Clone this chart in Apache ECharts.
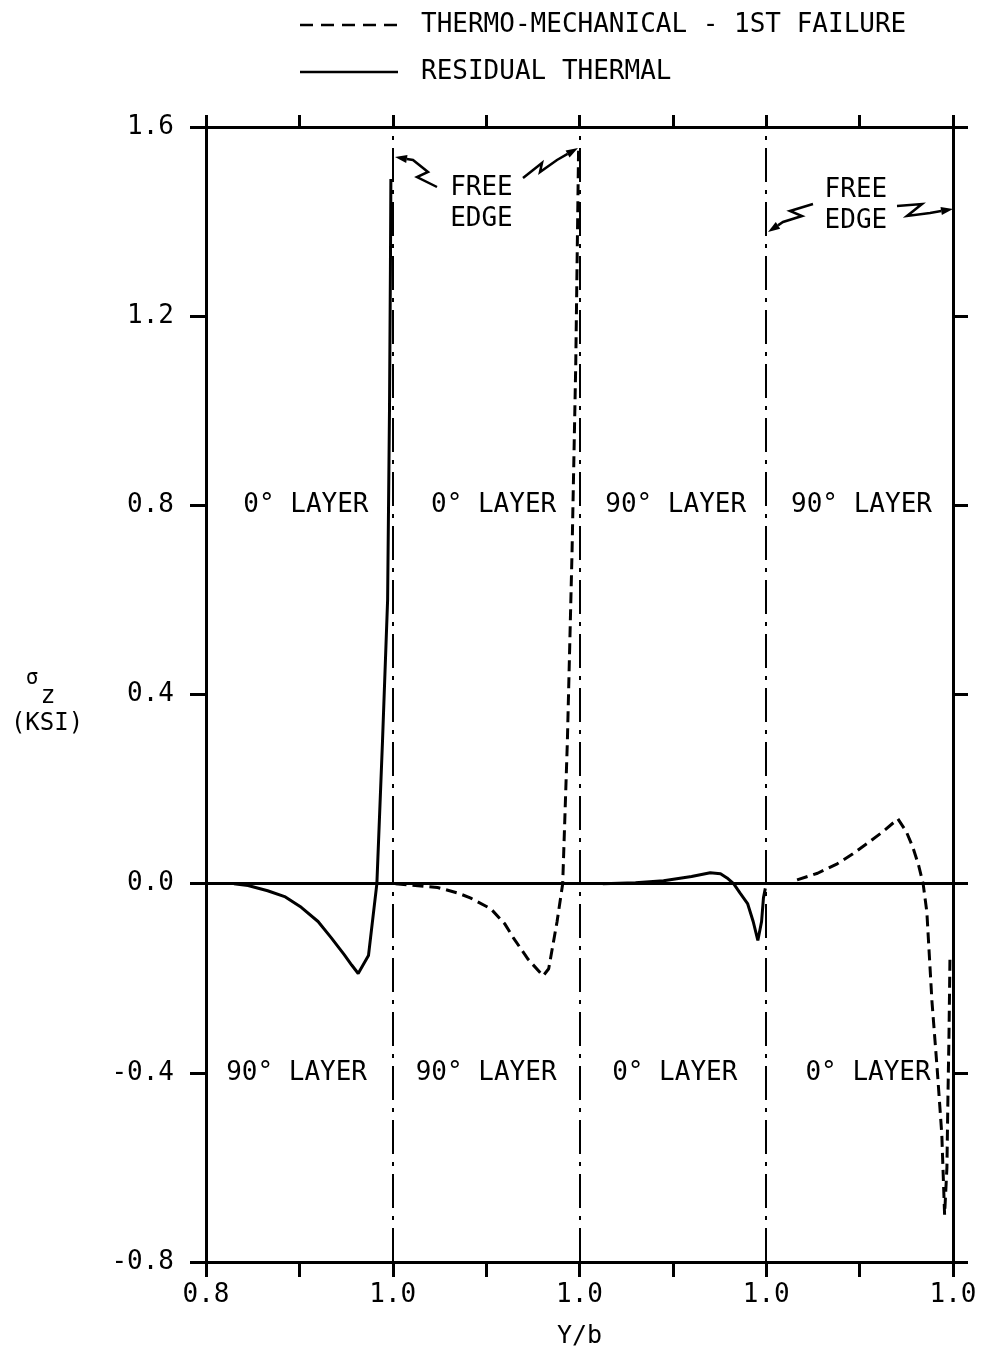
<!DOCTYPE html>
<html>
<head>
<meta charset="utf-8">
<script src="https://cdn.jsdelivr.net/npm/echarts@6/dist/echarts.min.js"></script>
<style>
  html, body { margin: 0; padding: 0; background: #fff; overflow: hidden; }
  #chart { width: 983px; height: 1354px; }
</style>
</head>
<body>
<div id="chart"></div>
<script>
// ---- Data (Y/b plotted on a continuous 0.8 .. 1.6 scale, one 0.2 panel per layer pair) ----
const yTickValues = [-0.8, -0.4, 0.0, 0.4, 0.8, 1.2, 1.6];
const xPanelBounds = [1.0, 1.2, 1.4];            // dash-dot layer/free-edge separators
const xLabelText = { '0.8': '0.8', '1.0': '1.0', '1.2': '1.0', '1.4': '1.0', '1.6': '1.0' };

const residualPanel1 = [[0.830,0],[0.845,-0.004],[0.866,-0.015],[0.885,-0.028],[0.902,-0.05],[0.92,-0.08],[0.934,-0.114],[0.948,-0.15],[0.956,-0.172],[0.963,-0.19],[0.974,-0.152],[0.983,0.0],[0.989,0.3],[0.9945,0.6],[0.9965,1.0],[0.9975,1.3],[0.998,1.49]];
const thermoPanel2 = [[1.003,0],[1.02,-0.003],[1.048,-0.008],[1.07,-0.02],[1.083,-0.03],[1.105,-0.053],[1.12,-0.085],[1.129,-0.114],[1.145,-0.16],[1.161,-0.195],[1.167,-0.18],[1.176,-0.08],[1.182,0],[1.187,0.3],[1.192,0.7],[1.196,1.1],[1.198,1.4],[1.199,1.55]];
const residualPanel3 = [[1.225,0],[1.26,0.002],[1.29,0.006],[1.32,0.015],[1.34,0.023],[1.351,0.021],[1.358,0.012],[1.365,0],[1.372,-0.02],[1.38,-0.042],[1.386,-0.08],[1.391,-0.12],[1.395,-0.08],[1.397,-0.03],[1.399,-0.01]];
const thermoPanel4 = [[1.433,0.008],[1.455,0.022],[1.476,0.042],[1.492,0.062],[1.508,0.085],[1.525,0.11],[1.541,0.137],[1.550,0.11],[1.557,0.077],[1.563,0.04],[1.568,0],[1.572,-0.06],[1.5775,-0.25],[1.583,-0.39],[1.588,-0.53],[1.591,-0.70],[1.5935,-0.6],[1.5945,-0.46],[1.5957,-0.32],[1.5968,-0.148]];

const legendNames = ['THERMO-MECHANICAL - 1ST FAILURE', 'RESIDUAL THERMAL'];
const layerLabelsTop = [['0° LAYER', 0.907], ['0° LAYER', 1.108], ['90° LAYER', 1.303], ['90° LAYER', 1.502]];
const layerLabelsBottom = [['90° LAYER', 0.897], ['90° LAYER', 1.100], ['0° LAYER', 1.302], ['0° LAYER', 1.509]];
const freeEdgeLabels = [['FREE\nEDGE', 1.095, 1.437], ['FREE\nEDGE', 1.496, 1.433]];

// ---- Chart ----
const FONT = 'DejaVu Sans Mono';
const chart = echarts.init(document.getElementById('chart'), null, { renderer: 'canvas' });

const solidStyle = { color: '#000', width: 3, type: 'solid' };
const dashStyle = { color: '#000', width: 3, type: [11, 6] };
const sepStyle = { color: '#000', width: 2, type: [34, 8, 4, 8] };

function lineSeries(name, data, style, extra) {
  return Object.assign({
    name: name, type: 'line', data: data, showSymbol: false, symbol: 'none',
    lineStyle: style, smooth: false, silent: true, animation: false, z: 5
  }, extra || {});
}

const xCommon = {
  type: 'value', min: 0.8, max: 1.6, interval: 0.1,
  splitLine: { show: false },
  axisLine: { show: true, onZero: false, lineStyle: { color: '#000', width: 3 } }
};
const yCommon = {
  type: 'value', min: -0.8, max: 1.6, interval: 0.4,
  splitLine: { show: false },
  axisLine: { show: true, onZero: false, lineStyle: { color: '#000', width: 3 } }
};

const option = {
  backgroundColor: '#fff',
  animation: false,
  grid: { left: 206, right: 30, top: 127, bottom: 87, containLabel: false },
  xAxis: [
    Object.assign({}, xCommon, {
      position: 'bottom',
      axisTick: { show: true, inside: false, length: 15, lineStyle: { color: '#000', width: 3 } },
      axisLabel: {
        show: true, margin: 20, color: '#000', fontFamily: FONT, fontSize: 26,
        formatter: function (v) { const k = v.toFixed(1); return xLabelText[k] !== undefined ? xLabelText[k] : ''; }
      },
      name: 'Y/b', nameLocation: 'middle', nameGap: 62,
      nameTextStyle: { color: '#000', fontFamily: FONT, fontSize: 25 }
    }),
    Object.assign({}, xCommon, {
      position: 'top',
      axisTick: { show: true, inside: false, length: 12, lineStyle: { color: '#000', width: 3 } },
      axisLabel: { show: false }
    })
  ],
  yAxis: [
    Object.assign({}, yCommon, {
      position: 'left',
      axisTick: { show: true, inside: false, length: 16, lineStyle: { color: '#000', width: 3 } },
      axisLabel: {
        show: true, margin: 32, color: '#000', fontFamily: FONT, fontSize: 26,
        formatter: function (v) { return v.toFixed(1); }
      }
    }),
    Object.assign({}, yCommon, {
      position: 'right',
      axisTick: { show: true, inside: false, length: 15, lineStyle: { color: '#000', width: 3 } },
      axisLabel: { show: false }
    })
  ],
  series: [
    lineSeries('guides', [], solidStyle, {
      markLine: {
        silent: true, symbol: 'none', label: { show: false }, animation: false,
        data: [
          { yAxis: 0, lineStyle: { color: '#000', width: 3, type: 'solid' } }
        ].concat(xPanelBounds.map(function (x) { return { xAxis: x, lineStyle: sepStyle }; }))
      }
    }),
    lineSeries(legendNames[1], residualPanel1, solidStyle),
    lineSeries(legendNames[0], thermoPanel2, dashStyle),
    lineSeries(legendNames[1], residualPanel3, solidStyle),
    lineSeries(legendNames[0], thermoPanel4, dashStyle)
  ]
};
chart.setOption(option);

// ---- Annotations (text placed through the chart's own coordinate conversion) ----
function px(x, y) { return chart.convertToPixel({ gridIndex: 0 }, [x, y]); }
function txt(str, p, opts) {
  return Object.assign({
    type: 'text', x: p[0], y: p[1], silent: true, z: 20,
    style: Object.assign({ text: str, fill: '#000', font: '26px "' + FONT + '"', align: 'center', verticalAlign: 'middle' }, (opts || {}))
  });
}
function squiggle(points) {
  const n = points.length;
  const tip = points[n - 1], prev = points[n - 2];
  const ang = Math.atan2(tip[1] - prev[1], tip[0] - prev[0]);
  const L = 12, W = 4;
  const bx = tip[0] - L * Math.cos(ang), by = tip[1] - L * Math.sin(ang);
  const head = [tip, [bx + W * Math.sin(ang), by - W * Math.cos(ang)], [bx - W * Math.sin(ang), by + W * Math.cos(ang)]];
  return [
    { type: 'polyline', silent: true, z: 20, shape: { points: points.slice(0, n - 1).concat([[bx, by]]) }, style: { stroke: '#000', lineWidth: 2.5, fill: null } },
    { type: 'polygon', silent: true, z: 20, shape: { points: head }, style: { fill: '#000' } }
  ];
}

const g = [];
layerLabelsTop.forEach(function (d) { g.push(txt(d[0], px(d[1], 0.8))); });
layerLabelsBottom.forEach(function (d) { g.push(txt(d[0], px(d[1], -0.4))); });
freeEdgeLabels.forEach(function (d) { g.push(txt(d[0], px(d[1], d[2]), { lineHeight: 31 })); });

// squiggly leader arrows to the free edges
[
  [[437,187],[417,177],[428,172],[413,160],[395,157]],
  [[523,178],[542,163],[540,172],[557,160],[578,148]],
  [[813,204],[790,211],[802,216],[783,222],[768,232]],
  [[897,206],[922,204],[907,216],[930,213],[953,209]]
].forEach(function (pts) { squiggle(pts).forEach(function (e) { g.push(e); }); });

// legend
g.push({ type: 'line', silent: true, shape: { x1: 300, y1: 25, x2: 398, y2: 25 }, style: { stroke: '#000', lineWidth: 2.5, lineDash: [13, 8] } });
g.push({ type: 'line', silent: true, shape: { x1: 300, y1: 72, x2: 398, y2: 72 }, style: { stroke: '#000', lineWidth: 2.5 } });
g.push(txt(legendNames[0], [421, 25], { align: 'left' }));
g.push(txt(legendNames[1], [421, 72], { align: 'left' }));

// y-axis name: sigma_z (KSI)
g.push(txt('σ', [32, 679], { font: '21px "' + FONT + '"' }));
g.push(txt('z', [48, 696], { font: '25px "' + FONT + '"' }));
g.push(txt('(KSI)', [47, 724], { font: '24px "' + FONT + '"' }));

chart.setOption({ graphic: { elements: g } });
</script>
</body>
</html>
